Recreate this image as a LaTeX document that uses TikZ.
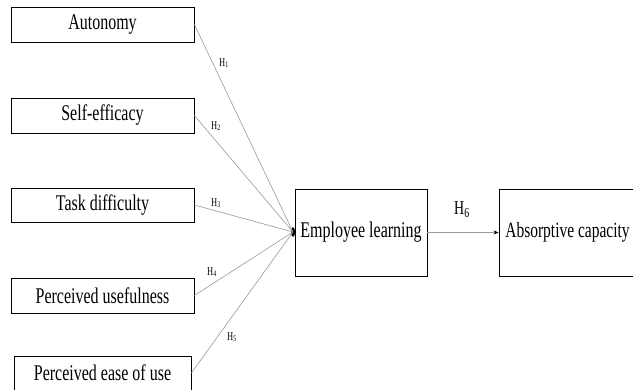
\documentclass[tikz,border=0pt]{standalone}
\usepackage{fontspec}
\setmainfont{Liberation Serif}
\usepackage{graphicx}
\usetikzlibrary{arrows.meta, shapes.geometric, positioning, calc}
\newcommand{\tallt}[1]{\scalebox{1}[1.4]{#1}}
\tikzset{varbox/.style={draw=black, line width=0.8pt, inner sep=0pt, minimum height=35pt, font=\fontsize{16}{16}\selectfont}}
\tikzset{hyp/.style={draw=gray!80, line width=0.6pt}}
\tikzset{hlab/.style={inner sep=0pt, font=\fontsize{8.5}{9}\selectfont}}

\begin{document}
\begin{tikzpicture}[x=1pt, y=-1pt]
    \useasboundingbox (0, 0) rectangle (633, 390);
    \clip (0, 0) rectangle (633, 390);
    \node[varbox, minimum width=183pt] (auto) at (102.5, 24.5) {\tallt{Autonomy}};
    \node[varbox, minimum width=183pt] (self) at (102.5, 115.5) {\tallt{Self-efficacy}};
    \node[varbox, minimum width=183pt, minimum height=34pt] (task) at (102.5, 205) {\tallt{Task difficulty}};
    \node[varbox, minimum width=183pt] (use) at (102.5, 295.5) {\tallt{Perceived usefulness}};
    \node[varbox, minimum width=177pt, minimum height=34pt] (ease) at (102.5, 373) {\tallt{Perceived ease of use}};
    \node[varbox, minimum width=132pt, minimum height=87pt] (learn) at (361, 232.5) {\tallt{Employee learning}};
    \node[varbox, minimum width=145pt, minimum height=87pt] (absorb) at (571.5, 232.5) {};
    \node[font=\fontsize{15.5}{16}\selectfont, inner sep=0pt] (absorbtxt) at (567.5, 232.5) {\tallt{Absorptive capacity}};
    \node[ellipse, fill=black, inner sep=0pt, minimum width=4pt, minimum height=10pt] (hub) at (293, 232) {};

    \draw[hyp]
    (auto.east) -- (hub.center)
    (self.east) -- (hub.center)
    (task.east) -- (hub.center)
    (use.east) -- (hub.center)
    (ease.east) -- (hub.center);
    \draw[hyp, -{Stealth[length=5pt, width=4pt, black]}] (learn.east) -- (absorb.west);

    \node[hlab] (h1) at (224, 63) {\tallt{H\textsubscript{1}}};
    \node[hlab] (h2) at (216, 126) {\tallt{H\textsubscript{2}}};
    \node[hlab] (h3) at (216, 203) {\tallt{H\textsubscript{3}}};
    \node[hlab] (h4) at (212, 272) {\tallt{H\textsubscript{4}}};
    \node[hlab] (h5) at (232, 337) {\tallt{H\textsubscript{5}}};
    \node[font=\fontsize{14}{14}\selectfont] (h6) at (462, 210) {\tallt{H\textsubscript{6}}};
\end{tikzpicture}
\end{document}
